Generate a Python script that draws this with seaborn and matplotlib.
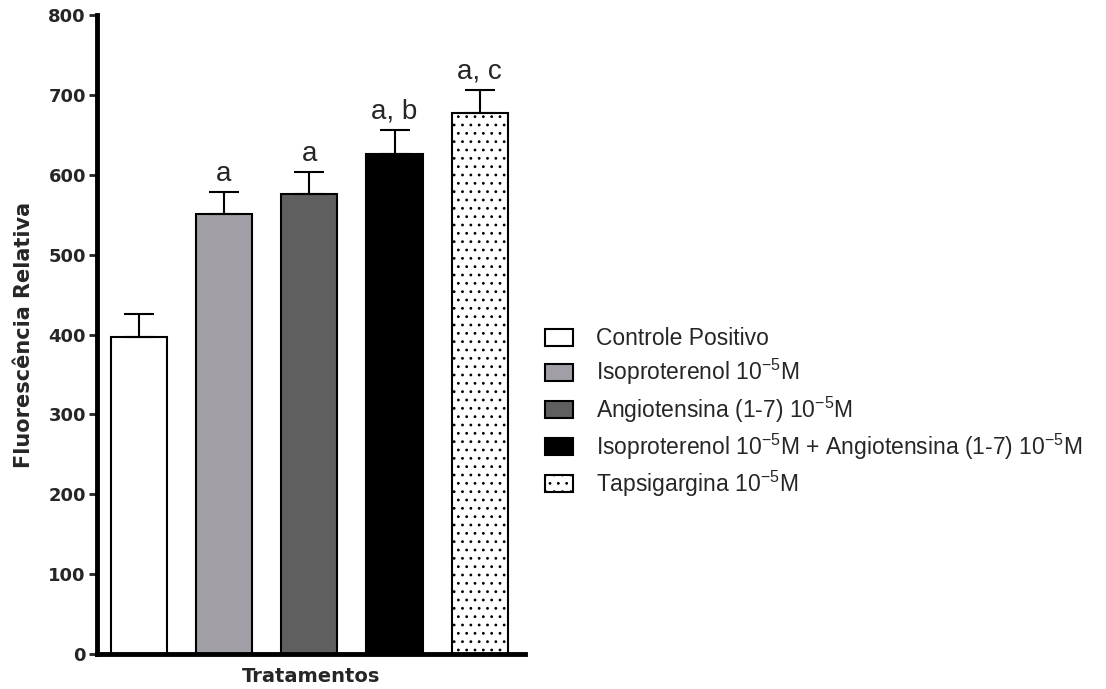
import matplotlib
matplotlib.use("Agg")
import matplotlib.pyplot as plt
import seaborn as sns
import pandas as pd
from matplotlib.patches import Patch

categories = ["Controle Positivo", "Isoproterenol", "Angiotensina", "Iso+Ang", "Tapsigargina"]
legend_labels = [
    "Controle Positivo",
    r"Isoproterenol 10$^{\mathrm{-5}}$M",
    r"Angiotensina (1-7) 10$^{\mathrm{-5}}$M",
    r"Isoproterenol 10$^{\mathrm{-5}}$M + Angiotensina (1-7) 10$^{\mathrm{-5}}$M",
    r"Tapsigargina 10$^{\mathrm{-5}}$M",
]
values = [397, 551, 576, 626, 677]
errors = [29, 27, 27, 30, 29]
letters = ["", "a", "a", "a, b", "a, c"]
colors = ["#ffffff", "#a19fa5", "#5f5f5f", "#000000", "#ffffff"]
hatches = [None, None, None, None, ".."]

sns.set_theme(style="white")
plt.rcParams["font.family"] = ["DejaVu Sans"]
plt.rcParams["mathtext.fontset"] = "custom"
plt.rcParams["mathtext.rm"] = "Liberation Sans"
plt.rcParams["mathtext.it"] = "Liberation Sans:italic"
plt.rcParams["mathtext.bf"] = "Liberation Sans:bold"
plt.rcParams["hatch.color"] = "#555555"
plt.rcParams["hatch.linewidth"] = 0.8

df = pd.DataFrame({"cat": categories, "val": values})

fig = plt.figure(figsize=(11.06, 6.89), dpi=100)
ax = fig.add_axes([97 / 1106, 35 / 689, (525 - 97) / 1106, (654 - 15) / 689])

sns.barplot(data=df, x="cat", y="val", hue="cat", palette=colors, width=0.66,
            edgecolor="black", linewidth=1.5, legend=False, ax=ax, saturation=1)
for p, h in zip(ax.patches, hatches):
    if h:
        p.set_hatch(h)

xs = list(range(len(categories)))
ax.errorbar(xs, values, yerr=[[0] * len(errors), errors], fmt="none",
            ecolor="black", elinewidth=1.5, capsize=10.8, capthick=1.5, zorder=5)

for x, v, e, t in zip(xs, values, errors, letters):
    if t:
        ax.annotate(t, (x, v + e), xytext=(0, 8), textcoords="offset points",
                    ha="center", va="baseline", fontsize=20,
                    family="Liberation Sans")

ax.set_xlim(-0.49, 4.53)
ax.set_ylim(0, 800)
ax.set_yticks(range(0, 801, 100))
ax.set_xticks([])
ax.tick_params(axis="y", left=True, direction="out", length=6, width=2,
               labelsize=13, pad=2)
for lab in ax.get_yticklabels():
    lab.set_fontweight("bold")
for s in ["top", "right"]:
    ax.spines[s].set_visible(False)
for s in ["left", "bottom"]:
    ax.spines[s].set_linewidth(3.5)
    ax.spines[s].set_color("black")

ax.set_xlabel("Tratamentos", fontsize=14, fontweight="bold", labelpad=9)
ax.set_ylabel("Fluorescência Relativa", fontsize=15, fontweight="bold", labelpad=10)

handles = [Patch(facecolor=c, edgecolor="black", linewidth=1.5, hatch=h)
           for c, h in zip(colors, hatches)]
fig.legend(handles, legend_labels, loc="center left",
           bbox_to_anchor=(524 / 1106, (689 - 413) / 689),
           frameon=False, prop={"family": "Liberation Sans", "size": 16.5},
           handlelength=1.25, handleheight=0.8, handletextpad=1.0,
           labelspacing=0.3)

fig.savefig("out.png", dpi=100)
